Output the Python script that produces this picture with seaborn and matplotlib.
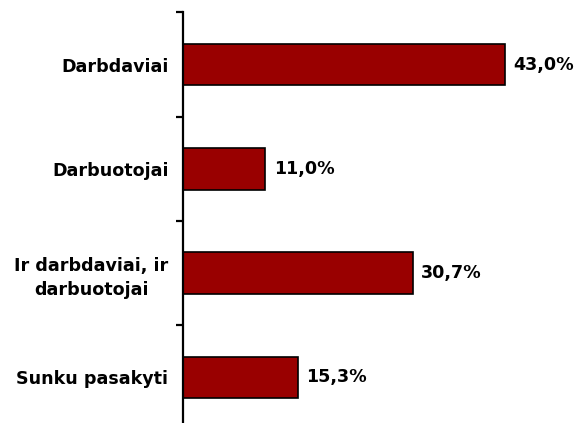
import matplotlib
matplotlib.use("Agg")
import matplotlib.pyplot as plt
import seaborn as sns
import pandas as pd

categories = ["Darbdaviai", "Darbuotojai", "Ir darbdaviai, ir\ndarbuotojai", "Sunku pasakyti"]
shares = [43.0, 11.0, 30.7, 15.3]

df = pd.DataFrame({"category": categories, "share": shares})

sns.set_style("white")
plt.rcParams["font.family"] = ["DejaVu Sans"]
plt.rcParams["text.color"] = "black"
plt.rcParams["ytick.color"] = "black"

fig = plt.figure(figsize=(5.83, 4.23), dpi=100)
# axes extend slightly past the bottom edge so the spine runs off the figure
ax = fig.add_axes([183 / 583, (423 - 429.5) / 423, 400 / 583, 417 / 423])

sns.barplot(data=df, x="share", y="category", orient="h", color="#990000",
            edgecolor="black", linewidth=1.2, width=0.4, saturation=1, ax=ax)

ax.set_xlim(0, 400 / 7.49)
ax.set_ylim(3.5, -0.5)
ax.set_xlabel("")
ax.set_ylabel("")
ax.set_xticks([])

for side in ["top", "right", "bottom"]:
    ax.spines[side].set_visible(False)
ax.spines["left"].set_linewidth(1.6)
ax.spines["left"].set_color("black")

ax.set_yticks([-0.5, 0.5, 1.5, 2.5, 3.5], minor=True)
ax.tick_params(axis="y", which="minor", left=True, length=5, width=1.6, color="black")
ax.tick_params(axis="y", which="major", length=0, pad=10.5, labelcolor="black")
for lbl in ax.get_yticklabels():
    lbl.set_fontweight("bold")
    lbl.set_fontsize(12.6)
    lbl.set_multialignment("center")
    lbl.set_linespacing(1.45)

labels = [f"{v:.1f}%".replace(".", ",") for v in shares]
ax.bar_label(ax.containers[0], labels=labels, padding=6,
             fontsize=12.6, fontweight="bold", color="black")

fig.savefig("out.png", dpi=100)
